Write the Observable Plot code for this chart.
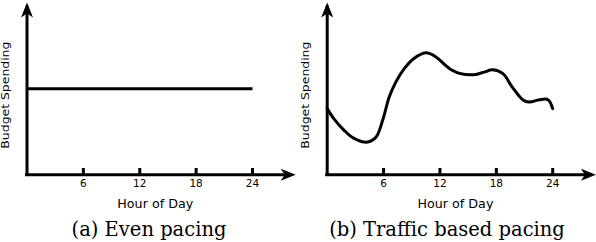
<!DOCTYPE html>
<html><head><meta charset="utf-8">
<script src="https://cdn.jsdelivr.net/npm/d3@7"></script>
<script src="https://cdn.jsdelivr.net/npm/@observablehq/plot@0.6"></script>
<style>
body{margin:0;background:#fff;}
#row{display:flex;width:596px;}
.panel{width:298px;}
.cap{font-family:"DejaVu Serif";font-size:19.5px;line-height:28px;text-align:center;color:#000;white-space:nowrap;}
</style></head><body>
<div id="row"></div>
<script>
const xTicks = [6, 12, 18, 24];
const evenHours = [0, 24];
const evenValues = [50, 50];
const trafficHours = [0, 0.7, 1.8, 2.8, 4.3, 5.2, 5.9, 6.6, 7.3, 8.2, 9.2, 10.5, 11.5, 12.6, 13.2, 14.2, 15.6, 16.7, 17.6, 18.7, 19.7, 20.8, 21.5, 22.6, 23.5, 24];
const trafficValues = [38.4, 32.6, 25.8, 21.3, 19.0, 21.9, 31.6, 45.1, 53.8, 61.6, 67.4, 70.8, 68.7, 63.5, 61.0, 58.7, 58.1, 59.6, 61.0, 58.7, 50.9, 43.6, 42.2, 43.6, 43.6, 38.4];
const xLabel = "Hour of Day";
const yLabel = "Budget Spending";
const captions = ["(a) Even pacing", "(b) Traffic based pacing"];
const xAxisEnd = 28.6;
const yAxisEnd = 100;

const arrowUp = {draw(c){c.moveTo(0,0);c.lineTo(6,15);c.lineTo(0,11);c.lineTo(-6,15);c.closePath();}};
const arrowRight = {draw(c){c.moveTo(0,0);c.lineTo(-15,-6);c.lineTo(-11,0);c.lineTo(-15,6);c.closePath();}};

function panel(hours, values, marginLeft, marginRight, curve, caption) {
  const data = hours.map((h, i) => ({h, v: values[i]}));
  const svg = Plot.plot({
    width: 298, height: 216,
    marginLeft, marginRight, marginTop: 2, marginBottom: 41.7,
    x: {domain: [0, 24], axis: null},
    y: {domain: [0, 100], axis: null},
    style: {fontFamily: "DejaVu Sans", background: "white", color: "black", overflow: "visible"},
    marks: [
      Plot.ruleY([0], {x1: 0, x2: xAxisEnd - 1, strokeWidth: 3, strokeLinecap: "square"}),
      Plot.ruleX([0], {y1: 0, y2: yAxisEnd - 3, strokeWidth: 3, strokeLinecap: "square"}),
      Plot.tickX(xTicks, {x: d => d, strokeWidth: 3, insetTop: 166}),
      Plot.dot([{x: xAxisEnd, y: 0}], {x: "x", y: "y", symbol: arrowRight, fill: "black", stroke: "none"}),
      Plot.dot([{x: 0, y: yAxisEnd}], {x: "x", y: "y", symbol: arrowUp, fill: "black", stroke: "none"}),
      Plot.line(data, {x: "h", y: "v", strokeWidth: 3, curve, strokeLinecap: curve === "linear" ? "butt" : "round"}),
      Plot.text(xTicks, {x: d => d, text: d => String(d), frameAnchor: "bottom", lineAnchor: "top", dy: 5, fontSize: 10.5}),
      Plot.text([xLabel], {text: d => d, frameAnchor: "bottom", lineAnchor: "top", dy: 23.7, dx: 15.5, fontSize: 12.7}),
      Plot.text([yLabel], {text: d => d, frameAnchor: "left", rotate: -90, lineAnchor: "bottom", textAnchor: "start", dx: -18.5, dy: 60, fontSize: 10.5})
    ]
  });
  d3.select(svg).selectAll("text").filter(function() { return this.textContent === yLabel; })
    .attr("textLength", 107).attr("lengthAdjust", "spacingAndGlyphs");
  const div = document.createElement("div");
  div.className = "panel";
  div.appendChild(svg);
  const cap = document.createElement("div");
  cap.className = "cap";
  cap.textContent = caption;
  div.appendChild(cap);
  document.getElementById("row").appendChild(div);
}

panel(evenHours, evenValues, 26.5, 46, "linear", captions[0]);
panel(trafficHours, trafficValues, 28.7, 43.8, "catmull-rom", captions[1]);
</script>
</body></html>
